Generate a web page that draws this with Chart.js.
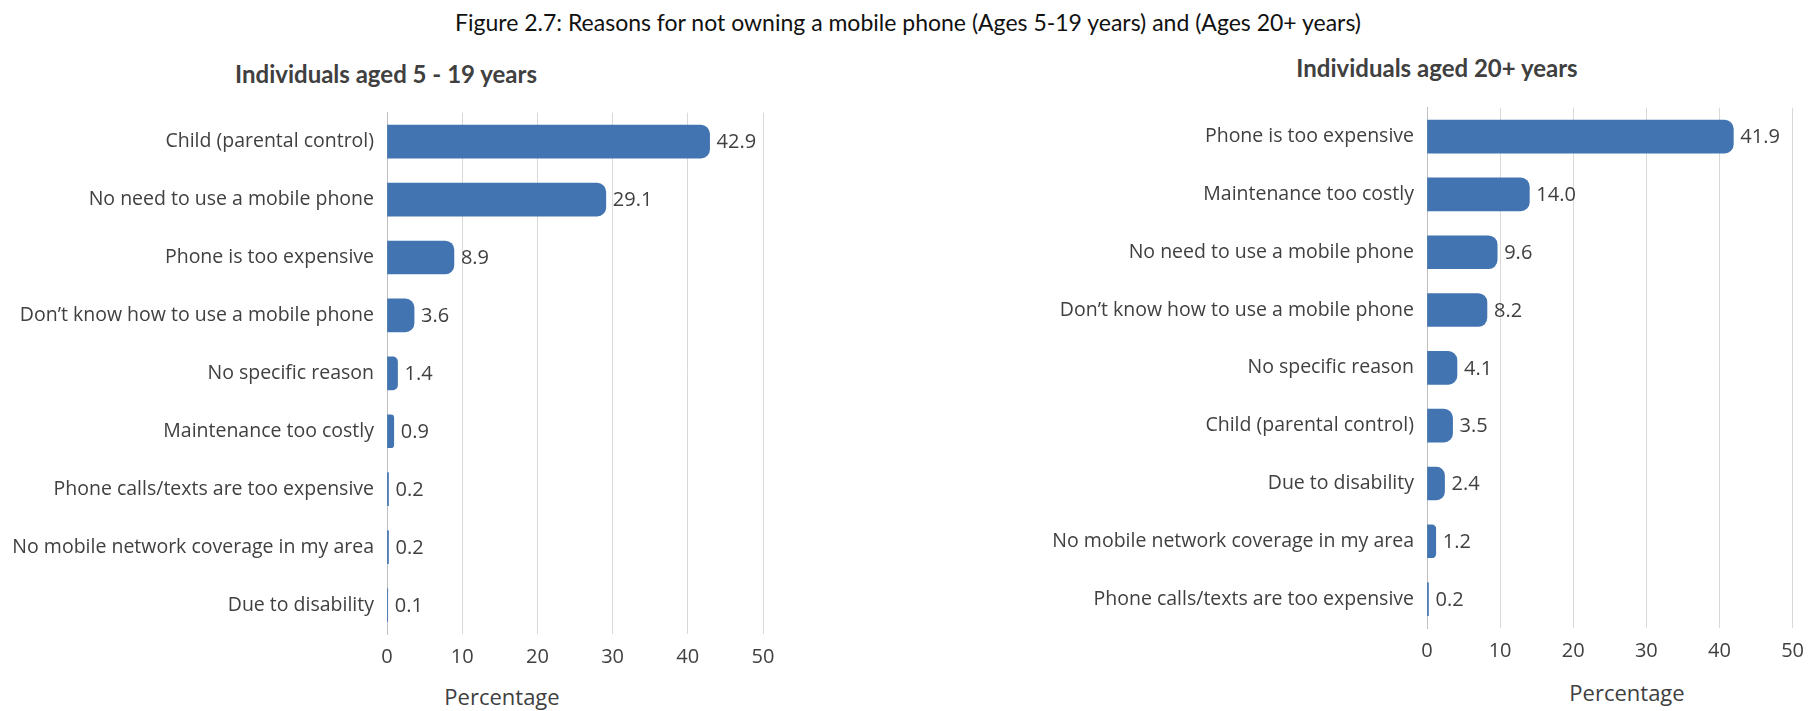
<!DOCTYPE html>
<html>
<head>
<meta charset="utf-8">
<script src="https://cdn.jsdelivr.net/npm/chart.js@4.4.1/dist/chart.umd.min.js"></script>
<style>
  html, body { margin: 0; padding: 0; background: #ffffff; }
  body { width: 1815px; height: 711px; position: relative; overflow: hidden; }
  .txt { position: absolute; white-space: nowrap; line-height: 1; transform: translate(-50%, -50%); }
  #figTitle { left: 908px; top: 22px; font: 23px "Lato", sans-serif; color: #111111; }
  .sub { font: bold 24px "Lato", sans-serif; color: #404040; }
  .axisName { font: 22px "Open Sans", sans-serif; color: #404040; }
  canvas { position: absolute; }
  #youngChart { left: 0px; top: 88px; }
  #adultChart { left: 1000px; top: 83px; }
</style>
</head>
<body>
<div id="figTitle" class="txt">Figure 2.7: Reasons for not owning a mobile phone (Ages 5-19 years) and (Ages 20+ years)</div>
<div class="txt sub" style="left:386px; top:73px;">Individuals aged 5 - 19 years</div>
<div class="txt sub" style="left:1437px; top:67px;">Individuals aged 20+ years</div>
<div class="txt axisName" style="left:502px; top:696px;">Percentage</div>
<div class="txt axisName" style="left:1627px; top:692px;">Percentage</div>

<canvas id="youngChart" width="800" height="623"></canvas>
<canvas id="adultChart" width="815" height="628"></canvas>

<script>
// Reasons given by people aged 5-19 (percent)
const youngReasons = [
  "Child (parental control)",
  "No need to use a mobile phone",
  "Phone is too expensive",
  "Don\u2019t know how to use a mobile phone",
  "No specific reason",
  "Maintenance too costly",
  "Phone calls/texts are too expensive",
  "No mobile network coverage in my area",
  "Due to disability"
];
const youngValues = [42.9, 29.1, 8.9, 3.6, 1.4, 0.9, 0.2, 0.2, 0.1];

// Reasons given by people aged 20 and over (percent)
const adultReasons = [
  "Phone is too expensive",
  "Maintenance too costly",
  "No need to use a mobile phone",
  "Don\u2019t know how to use a mobile phone",
  "No specific reason",
  "Child (parental control)",
  "Due to disability",
  "No mobile network coverage in my area",
  "Phone calls/texts are too expensive"
];
const adultValues = [41.9, 14.0, 9.6, 8.2, 4.1, 3.5, 2.4, 1.2, 0.2];

// Percentage axis
const percentMin = 0;
const percentMax = 50;
const percentStep = 10;

const BAR_BLUE = "#4174B0";
const TEXT_GREY = "#404040";

// Writes each bar's value just past its end
const valueLabels = {
  id: "valueLabels",
  afterDatasetsDraw(chart) {
    const ctx = chart.ctx;
    ctx.save();
    ctx.font = '20px "Open Sans", sans-serif';
    ctx.fillStyle = TEXT_GREY;
    ctx.textAlign = "left";
    ctx.textBaseline = "middle";
    chart.data.datasets.forEach((ds, di) => {
      chart.getDatasetMeta(di).data.forEach((bar, i) => {
        ctx.fillText(ds.data[i].toFixed(1), bar.x + 7, bar.y + 1);
      });
    });
    ctx.restore();
  }
};

function makeChart(canvasId, labels, values, labelAreaWidth, rightPad, axisHeight) {
  return new Chart(document.getElementById(canvasId), {
    type: "bar",
    data: {
      labels: labels,
      datasets: [{
        data: values,
        backgroundColor: BAR_BLUE,
        borderWidth: 0,
        borderRadius: 9,
        borderSkipped: "start",
        barThickness: 33
      }]
    },
    options: {
      indexAxis: "y",
      responsive: false,
      animation: false,
      devicePixelRatio: 1,
      layout: { padding: { top: 0, right: rightPad, bottom: 0, left: 0 } },
      plugins: {
        legend: { display: false },
        tooltip: { enabled: false }
      },
      scales: {
        x: {
          min: percentMin,
          max: percentMax,
          ticks: {
            stepSize: percentStep,
            padding: 11,
            color: "#404040",
            font: { family: "Open Sans", size: 20 }
          },
          grid: { color: "#d9d9d9", lineWidth: 1, drawTicks: false },
          border: { display: false },
          afterFit: (s) => { s.height = axisHeight; }
        },
        y: {
          ticks: {
            autoSkip: false,
            padding: 13,
            color: TEXT_GREY,
            font: { family: "Open Sans", size: 19.5 }
          },
          grid: { display: false, drawTicks: false },
          border: { display: true, color: "#bfbfbf", width: 1 },
          afterFit: (s) => { s.width = labelAreaWidth; }
        }
      }
    },
    plugins: [valueLabels]
  });
}

makeChart("youngChart", youngReasons, youngValues, 387, 37, 77);
makeChart("adultChart", adultReasons, adultValues, 427, 12, 83);
</script>
</body>
</html>
